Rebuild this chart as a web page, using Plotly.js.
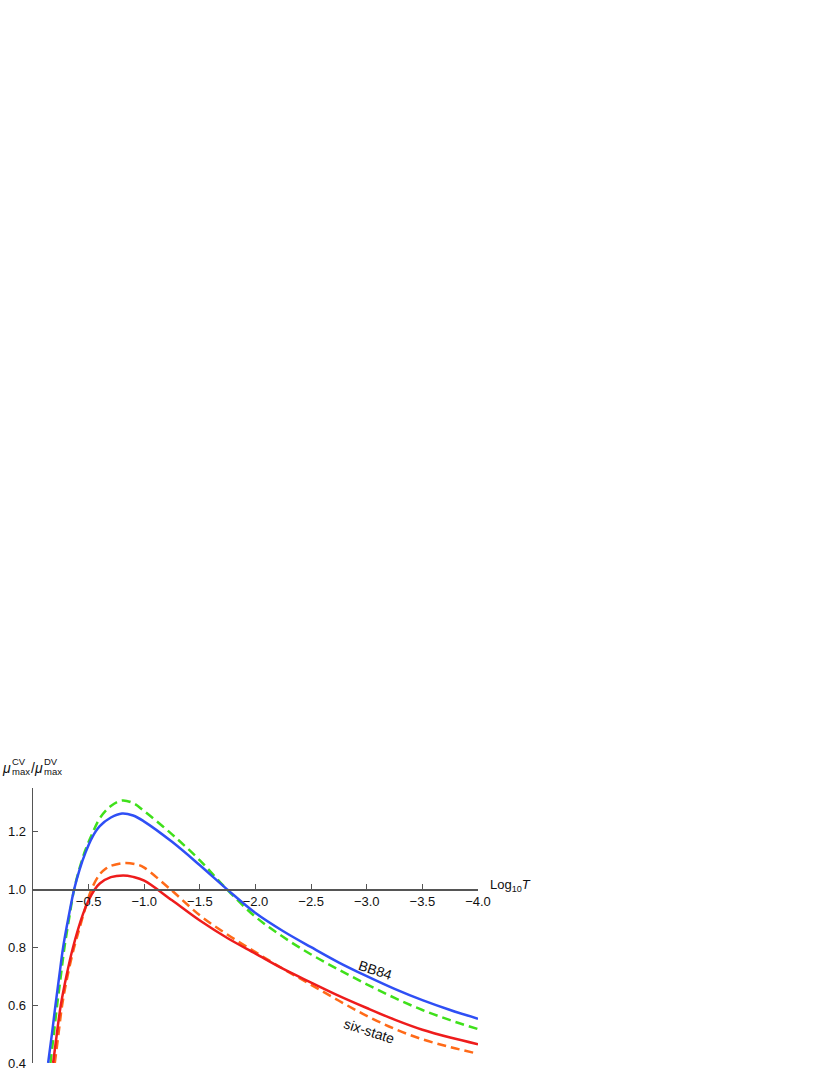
<!DOCTYPE html>
<html>
<head>
<meta charset="utf-8">
<script src="https://cdn.plot.ly/plotly-3.0.1.min.js"></script>
<style>
  html, body { margin: 0; padding: 0; background: #fff; }
  #chart { width: 830px; height: 1075px; }
</style>
</head>
<body>
<div id="chart"></div>
<script>
// Log10 T values (axis runs from 0 towards -4) and mu ratio
const bb84SolidX = [-0.136, -0.17, -0.202, -0.236, -0.271, -0.32, -0.37, -0.42, -0.47, -0.53, -0.6, -0.7, -0.8, -0.9, -1.0,
  -1.25, -1.5, -1.75, -2.0, -2.25, -2.5, -2.75, -3.0, -3.25, -3.5, -3.75, -4.0];
const bb84SolidY = [0.40, 0.50, 0.60, 0.70, 0.80, 0.905, 1.00, 1.07, 1.125, 1.178, 1.218, 1.248, 1.262, 1.255, 1.234,
  1.164, 1.083, 0.998, 0.918, 0.855, 0.80, 0.747, 0.70, 0.656, 0.617, 0.583, 0.553];

const bb84DashX = [-0.157, -0.187, -0.217, -0.25, -0.283, -0.325, -0.37, -0.42, -0.47, -0.53, -0.6, -0.7, -0.8, -0.9, -1.0,
  -1.25, -1.5, -1.75, -2.0, -2.25, -2.5, -2.75, -3.0, -3.25, -3.5, -3.75, -4.0];
const bb84DashY = [0.40, 0.50, 0.60, 0.70, 0.80, 0.90, 1.00, 1.075, 1.135, 1.19, 1.245, 1.288, 1.307, 1.298, 1.27,
  1.19, 1.1, 0.997, 0.905, 0.835, 0.775, 0.722, 0.672, 0.625, 0.583, 0.548, 0.517];

const sixSolidX = [-0.181, -0.214, -0.25, -0.3, -0.36, -0.45, -0.5, -0.556, -0.6, -0.7, -0.81, -0.9, -1.0,
  -1.25, -1.5, -1.75, -2.0, -2.25, -2.5, -2.75, -3.0, -3.25, -3.5, -3.75, -4.0];
const sixSolidY = [0.40, 0.50, 0.60, 0.70, 0.80, 0.915, 0.962, 1.00, 1.02, 1.042, 1.048, 1.043, 1.03,
  0.962, 0.892, 0.831, 0.778, 0.725, 0.678, 0.632, 0.59, 0.55, 0.515, 0.488, 0.465];

const sixDashX = [-0.196, -0.229, -0.262, -0.31, -0.37, -0.415, -0.47, -0.526, -0.6, -0.65, -0.7, -0.83, -0.95, -1.0,
  -1.25, -1.5, -1.75, -2.0, -2.25, -2.5, -2.75, -3.0, -3.25, -3.5, -3.75, -4.0];
const sixDashY = [0.40, 0.50, 0.60, 0.70, 0.80, 0.861, 0.935, 1.00, 1.052, 1.07, 1.081, 1.091, 1.084, 1.075,
  0.995, 0.91, 0.843, 0.783, 0.725, 0.67, 0.615, 0.563, 0.518, 0.482, 0.455, 0.432];

const xTicks = [-0.5, -1.0, -1.5, -2.0, -2.5, -3.0, -3.5, -4.0];
const yTicks = [0.4, 0.6, 0.8, 1.0, 1.2];

const xRange = [0, -4.0];
const yRange = [0.4, 1.35];

const font = '"Liberation Sans", Arial, Helvetica, sans-serif';

function curve(x, y, color, dash) {
  return {
    x: x, y: y,
    type: 'scatter',
    mode: 'lines',
    line: { color: color, width: 2.5, shape: 'spline', smoothing: 1, dash: dash },
    hoverinfo: 'skip'
  };
}

const data = [
  curve(bb84DashX, bb84DashY, '#3fe01a', '9px,5px'),
  curve(bb84SolidX, bb84SolidY, '#2f4ff5', 'solid'),
  curve(sixDashX, sixDashY, '#ff6a18', '9px,5px'),
  curve(sixSolidX, sixSolidY, '#ee1c1c', 'solid')
];

// x axis crosses at mu ratio = 1
const crossPos = (1 - yRange[0]) / (yRange[1] - yRange[0]);

// pieces of the stacked y label, placed in pixels from the plot's top-left
function labelPiece(text, dx, dy, size, anchor) {
  return {
    text: text, x: 0, y: 1, xref: 'paper', yref: 'paper',
    xanchor: anchor, yanchor: 'middle', xshift: dx, yshift: dy,
    showarrow: false, font: { size: size }
  };
}

const layout = {
  width: 830,
  height: 1075,
  margin: { l: 33, r: 352, t: 788, b: 12, autoexpand: false },
  paper_bgcolor: '#fff',
  plot_bgcolor: '#fff',
  showlegend: false,
  font: { family: font, color: '#111', size: 13 },
  xaxis: {
    range: xRange,
    anchor: 'free',
    position: crossPos,
    showgrid: false,
    zeroline: false,
    showline: true,
    linecolor: '#555',
    linewidth: 1.3,
    ticks: 'inside',
    ticklen: 5,
    tickcolor: '#555',
    tickvals: xTicks,
    tickformat: '.1f',
    tickfont: { size: 13 }
  },
  yaxis: {
    range: yRange,
    showgrid: false,
    zeroline: false,
    showline: true,
    linecolor: '#555',
    linewidth: 1.3,
    ticks: 'inside',
    ticklen: 5,
    tickcolor: '#555',
    tickvals: yTicks,
    tickformat: '.1f',
    tickfont: { size: 13 },
    ticklabelstandoff: 3
  },
  annotations: [
    { text: 'BB84', x: -3.074, y: 0.72, xref: 'x', yref: 'y', showarrow: false,
      textangle: 18, font: { size: 14 } },
    { text: 'six-state', x: -3.02, y: 0.509, xref: 'x', yref: 'y', showarrow: false,
      textangle: 18, font: { size: 14 } },
    { text: 'Log<sub>10</sub><i>T</i>', x: 1, y: 1.0, xref: 'paper', yref: 'y',
      xanchor: 'left', yanchor: 'middle', xshift: 10, yshift: 4, showarrow: false,
      font: { size: 13 } },
    labelPiece('<i>μ</i>', -27, 20, 14, 'center'),
    labelPiece('CV', -23, 27, 9.5, 'left'),
    labelPiece('max', -23, 17, 9.5, 'left'),
    labelPiece('/<i>μ</i>', -4, 20, 14, 'left'),
    labelPiece('DV', 9, 27, 9.5, 'left'),
    labelPiece('max', 9, 17, 9.5, 'left')
  ]
};

Plotly.newPlot('chart', data, layout, { displayModeBar: false, staticPlot: true });
</script>
</body>
</html>
